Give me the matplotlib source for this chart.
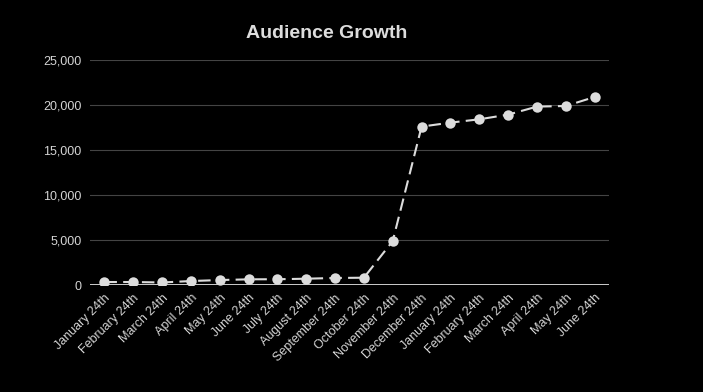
import matplotlib
matplotlib.use("Agg")
import matplotlib.pyplot as plt
from matplotlib import ticker

plt.rcParams["font.family"] = ["Liberation Sans", "DejaVu Sans"]

months = ["January 24th", "February 24th", "March 24th", "April 24th", "May 24th",
          "June 24th", "July 24th", "August 24th", "September 24th", "October 24th",
          "November 24th", "December 24th", "January 24th", "February 24th",
          "March 24th", "April 24th", "May 24th", "June 24th"]
audience = [330, 330, 280, 440, 550, 630, 640, 700, 780, 810,
            4890, 17600, 18040, 18410, 18930, 19820, 19890, 20890]
yticks = [0, 5000, 10000, 15000, 20000, 25000]

fig = plt.figure(figsize=(7.03, 3.92), dpi=100, facecolor="black")
ax = fig.add_axes([90/703, 1-285/392, 519/703, 225/392], facecolor="black")

x = list(range(len(months)))
ax.plot(x, audience, color="#dcdcdc", lw=1.5, dashes=(6, 3),
        marker="o", markersize=7.5, markeredgewidth=0, zorder=3)

ax.set_xlim(-0.5, len(months) - 0.5)
ax.set_ylim(0, 25000)
ax.set_yticks(yticks)
ax.yaxis.set_major_formatter(ticker.FuncFormatter(lambda v, p: f"{int(v):,}"))
ax.set_xticks(x)
ax.set_xticklabels(months, rotation=45, ha="right", rotation_mode="anchor")
ax.tick_params(axis="both", length=0, colors="#d4d4d4", labelsize=9)
ax.tick_params(axis="x", pad=5)
ax.tick_params(axis="y", pad=6)
for s in ax.spines.values():
    s.set_visible(False)
ax.grid(axis="y", color="#444444", lw=0.8)
ax.set_axisbelow(True)
ax.axhline(0, color="#eeeeee", lw=1.2, zorder=2)

fig.text(327/703, 1-34/392, "Audience Growth", color="#dddddd", fontsize=14,
         fontweight="bold", ha="center", va="center")

fig.savefig("out.png", dpi=100, facecolor="black")
